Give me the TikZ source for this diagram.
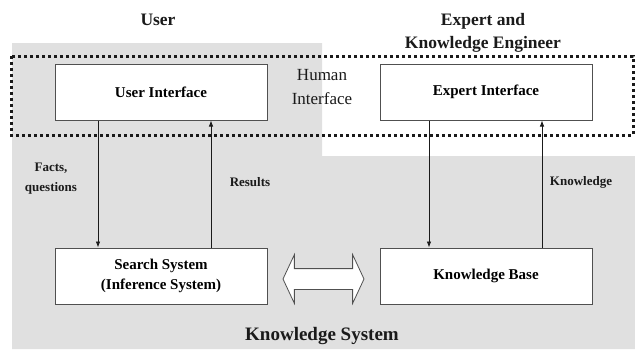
\documentclass[tikz,border=0pt]{standalone}
\usepackage{fontspec}
\setmainfont{Liberation Serif}
\usetikzlibrary{arrows.meta,positioning,shapes.arrows,calc}
\definecolor{panel}{HTML}{E0E0E0}
\definecolor{frame}{HTML}{505050}
\definecolor{ink}{HTML}{1A1A1A}

\begin{document}
\begin{tikzpicture}[x=1pt, y=-1pt,
    node distance=127pt and 112pt,
    box/.style={draw=frame, line width=1pt, fill=white, minimum width=212pt, minimum height=56pt,
                align=center, inner sep=0pt, font=\fontsize{15}{20}\selectfont\bfseries},
    title/.style={align=center, text=ink, font=\fontsize{17.5}{23}\selectfont\bfseries},
    tag/.style={align=center, text=ink, font=\fontsize{13}{20}\selectfont\bfseries},
    flow/.style={-{Latex[length=6pt,width=4.5pt]}, line width=0.8pt, draw=ink},
    link/.style={double arrow, draw=frame, line width=0.8pt, fill=white, minimum height=81pt,
                 minimum width=48pt, inner xsep=0pt, inner ysep=10pt, double arrow head extend=14pt,
                 double arrow tip angle=130}
  ]
  \useasboundingbox (0,0) rectangle (635,349);

  %%%%%%%%%%%%% Background: knowledge system %%%%%%%%%%%%%
  \fill[panel] (12,43) -- (322,43) -- (322,156) -- (635,156) -- (635,349) -- (12,349) -- cycle;
  \draw[ink, line width=3pt, dash pattern=on 3pt off 3pt] (11,56) rectangle (633,135);

  %%%%%%%%%%%%% Boxes %%%%%%%%%%%%%
  \node[box] (ui) at (161,92) {User Interface};
  \node[box, right=of ui] (ei) {Expert Interface};
  \node[box, below=of ui] (ss) {Search System\\(Inference System)};
  \node[box, right=of ss] (kb) {Knowledge Base};

  %%%%%%%%%%%%% Titles %%%%%%%%%%%%%
  \node[title] (user) at (158,20) {User};
  \node[title] (expert) at (483,33) {Expert and\\Knowledge Engineer};
  \node[align=center, text=ink, font=\fontsize{17}{24}\selectfont] (human) at (322,87) {Human\\Interface};
  \node[title, font=\fontsize{19}{23}\selectfont\bfseries] (ksys) at (322,336) {Knowledge System};

  %%%%%%%%%%%%% Connections %%%%%%%%%%%%%
  \draw[flow] ([xshift=-63pt]ui.south) -- ([xshift=-63pt]ss.north);
  \draw[flow] ([xshift=50pt]ss.north) -- ([xshift=50pt]ui.south);
  \draw[flow] ([xshift=-57pt]ei.south) -- ([xshift=-57pt]kb.north);
  \draw[flow] ([xshift=56pt]kb.north) -- ([xshift=56pt]ei.south);
  \node[link, yshift=-3pt] (swap) at ($(ss.east)!0.5!(kb.west)$) {};

  %%%%%%%%%%%%% Labels %%%%%%%%%%%%%
  \node[tag] (facts) at (51,179) {Facts,\\questions};
  \node[tag] (results) at (250,182) {Results};
  \node[tag] (know) at (581,182) {Knowledge};

\end{tikzpicture}
\end{document}
